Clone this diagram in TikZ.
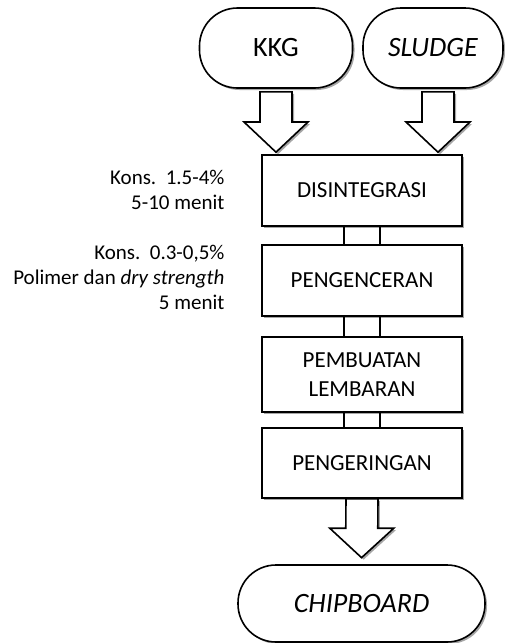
\documentclass[tikz,border=0pt]{standalone}
\usepackage{fontspec}
\setmainfont{Carlito}
\usetikzlibrary{calc,shadows}

\tikzset{
  bayang/.style={drop shadow={shadow xshift=2pt, shadow yshift=-2pt, fill=black!35, opacity=1}},
  proses/.style={draw, line width=1.6pt, fill=white, bayang, minimum width=200pt,
    minimum height=71pt, align=center, font=\fontsize{23}{29}\selectfont},
  terminal/.style={draw, line width=1.6pt, fill=white, bayang, rounded corners=38pt,
    minimum height=80pt, font=\fontsize{28}{32}\selectfont},
  keterangan/.style={anchor=east, align=right, font=\fontsize{21}{25}\selectfont},
  panah/.style={draw, line width=1.6pt, fill=white, bayang},
  garis/.style={line width=1.6pt}
}

% panah blok ke bawah: dari #1 sampai ujung #2
\newcommand{\panahblok}[2]{%
  \draw[panah] ($(#1)+(-16,0)$) -- ($(#1)!.5!(#2)+(-16,0)$) -- ($(#1)!.5!(#2)+(-32,0)$)
    -- (#2) -- ($(#1)!.5!(#2)+(32,0)$) -- ($(#1)!.5!(#2)+(16,0)$) -- ($(#1)+(16,0)$) -- cycle;}

\begin{document}
\begin{tikzpicture}[x=1pt,y=-1pt]
\useasboundingbox (0,0) rectangle (504,643);

% bahan baku
\node[terminal, minimum width=153pt] (kkg) at (276,48) {KKG};
\node[terminal, minimum width=140pt] (sludge) at (433,48) {\textit{SLUDGE}};

% proses
\node[proses] (dis) at (362,190.5) {DISINTEGRASI};
\node[proses] (pen) at (362,280.5) {PENGENCERAN};
\node[proses, minimum height=75pt] (pem) at (362,374.5) {PEMBUATAN\\LEMBARAN};
\node[proses, minimum height=70pt] (pgr) at (362,463) {PENGERINGAN};

% produk
\node[terminal, minimum width=247pt, minimum height=77pt] (chip) at (361.5,603.5) {\textit{CHIPBOARD}};

% keterangan
\node[keterangan] (ket1) at (228,190) {Kons.\ \ 1.5-4\%\\5-10 menit};
\node[keterangan] (ket2) at (228,277) {Kons.\ \ 0.3-0,5\%\\Polimer dan \textit{dry strength}\\5 menit};

% panah
\coordinate (a1) at ($(kkg.south)+(0,3)$);
\coordinate (b1) at ($(a1 |- dis.north)+(0,-2)$);
\coordinate (a2) at ($(sludge.south)+(5,3)$);
\coordinate (b2) at ($(a2 |- dis.north)+(0,-2)$);
\coordinate (b3) at ($(pgr.south)!.9!(chip.north)$);
\panahblok{a1}{b1}
\panahblok{a2}{b2}
\panahblok{pgr.south}{b3}

% penghubung
\foreach \a/\b in {dis/pen, pen/pem, pem/pgr} {
  \draw[garis] ($(\a.south)+(-18,0)$) -- ($(\b.north)+(-18,0)$);
  \draw[garis] ($(\a.south)+(18,0)$) -- ($(\b.north)+(18,0)$);
}
\end{tikzpicture}
\end{document}
